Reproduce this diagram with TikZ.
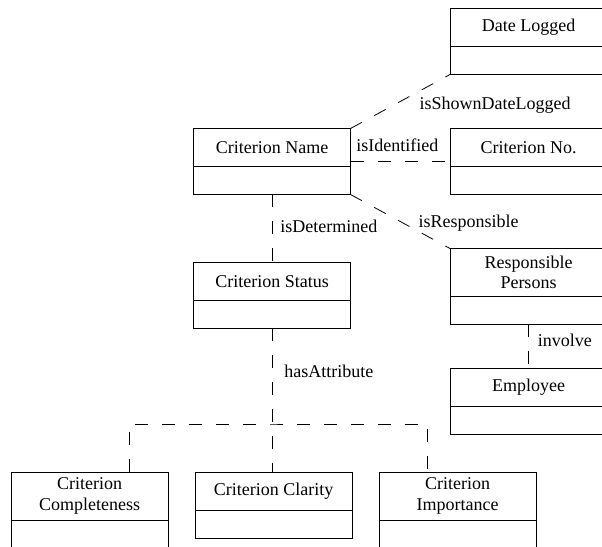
\documentclass[tikz,border=0pt]{standalone}
\usepackage{fontspec}
\setmainfont{Liberation Serif}
\usepackage{tikz}
\usetikzlibrary{positioning}
\tikzstyle{classhead} = [draw, line width=0.9pt, rectangle, minimum width=157pt,
    minimum height=38pt, inner sep=0pt, outer sep=0pt, align=center]
\tikzstyle{tallhead} = [classhead, minimum height=48pt]
\tikzstyle{classbody} = [draw, line width=0.9pt, rectangle, minimum width=157pt,
    minimum height=28pt, inner sep=0pt, outer sep=0pt]
\tikzstyle{assoc} = [line width=0.8pt, dash pattern=on 13pt off 14pt]
\tikzstyle{rolename} = [inner sep=2pt]

\begin{document}
\begin{tikzpicture}[x=1pt, y=1pt, font=\fontsize{18}{20.5}\selectfont]
\clip (0,0) rectangle (602,546);

\node [classhead] (namehead) at (272,398.5) {Criterion Name};
\node [classbody, below=0pt of namehead] (namebody) {};

\node [classhead, below=68pt of namebody] (statushead) {Criterion Status};
\node [classbody, below=0pt of statushead] (statusbody) {};

% right column
\node [classhead] (datehead) at (528.5,518.5) {Date Logged};
\node [classbody, below=0pt of datehead] (datebody) {};

\node [classhead, below=54pt of datebody] (critnohead) {Criterion No.};
\node [classbody, below=0pt of critnohead] (critnobody) {};

\node [tallhead, below=54pt of critnobody] (resphead) {Responsible\\Persons};
\node [classbody, below=0pt of resphead] (respbody) {};

\node [classhead, below=44pt of respbody] (emphead) {Employee};
\node [classbody, below=0pt of emphead] (empbody) {};

% bottom row
\node [tallhead, anchor=north] (comphead) at (89.5,74) {Criterion\\Completeness};
\node [classbody, below=0pt of comphead] (compbody) {};

\node [classhead, anchor=north] (clarhead) at (273.5,74) {Criterion Clarity};
\node [classbody, below=0pt of clarhead] (clarbody) {};

\node [tallhead, anchor=north] (imphead) at (457.5,74) {Criterion\\Importance};
\node [classbody, below=0pt of imphead] (impbody) {};

\draw [assoc] (namehead.north east) -- node[rolename, pos=0.35, anchor=base west, xshift=32pt] {isShownDateLogged} (datebody.south west);
\draw [assoc] ([yshift=5pt]namebody.north east) -- node[rolename, midway, anchor=base, yshift=10pt, xshift=-3pt] {isIdentified} ([yshift=5pt]critnobody.north west);
\draw [assoc] (namebody.south east) -- node[rolename, pos=0.61, anchor=base west, xshift=5pt] {isResponsible} (resphead.north west);
\draw [assoc] (namebody) -- node[rolename, pos=0.56, anchor=base west, xshift=6pt] {isDetermined} (statushead);
\draw [assoc] (respbody) -- node[rolename, pos=0.49, anchor=base west, xshift=7pt] {involve} (emphead);

\draw [assoc] (statusbody.south) -- node[rolename, pos=0.34, anchor=base west, xshift=10pt] {hasAttribute} (statusbody.south |- clarhead.north);
\coordinate (fork) at (statusbody.south |- 0,122);
\draw [assoc] ([xshift=39.5pt]comphead.north) |- (fork) -| ([xshift=-30.5pt]imphead.north);

\end{tikzpicture}
\end{document}
